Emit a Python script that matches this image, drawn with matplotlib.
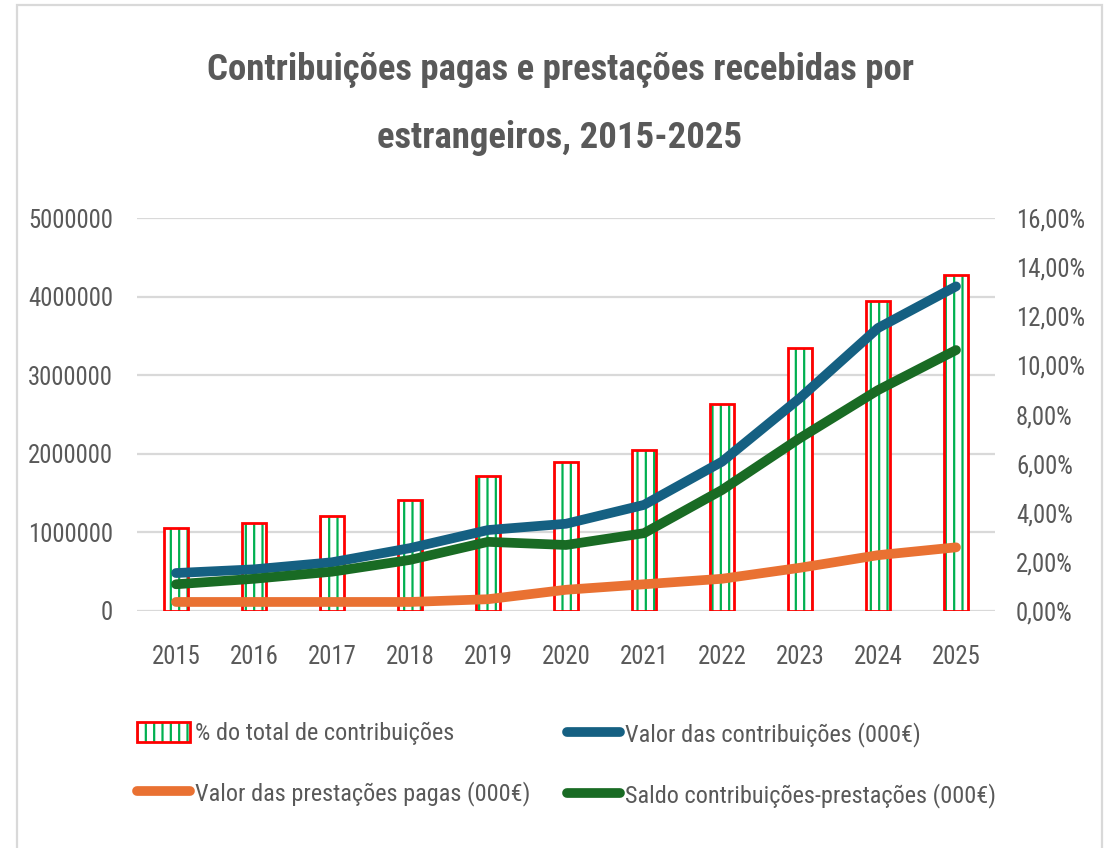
import matplotlib
matplotlib.use("Agg")
import numpy as np
import matplotlib.pyplot as plt
from matplotlib import font_manager as fm
from matplotlib.patches import Rectangle
from matplotlib.ticker import FuncFormatter, MultipleLocator
from matplotlib.legend_handler import HandlerTuple

# ---- data ----
years = ["2015", "2016", "2017", "2018", "2019", "2020", "2021", "2022", "2023", "2024", "2025"]
pct_total = [3.38, 3.58, 3.87, 4.52, 5.50, 6.07, 6.56, 8.43, 10.71, 12.62, 13.68]          # %
contrib = [483000, 530000, 620000, 800000, 1030000, 1110000, 1350000, 1900000, 2710000, 3600000, 4130000]
prest = [115000, 115000, 115000, 115000, 150000, 270000, 340000, 410000, 550000, 710000, 810000]
saldo = [340000, 410000, 500000, 650000, 880000, 840000, 990000, 1540000, 2200000, 2810000, 3320000]

lbl_pct = "% do total de contribuições"
lbl_contrib = "Valor das contribuições (000€)"
lbl_prest = "Valor das prestações pagas (000€)"
lbl_saldo = "Saldo contribuições-prestações (000€)"
title = "Contribuições pagas e prestações recebidas por\nestrangeiros, 2015-2025"

# ---- pick the narrowest available font ----
def _pick_font():
    cands = [('Liberation Sans Narrow', 'normal'), ('Roboto Condensed', 'normal'),
             ('Open Sans Condensed', 'normal'), ('DejaVu Sans', 'condensed'),
             ('Noto Sans', 'condensed'), ('Roboto', 'normal')]
    for fam, st in cands:
        try:
            p = fm.findfont(fm.FontProperties(family=fam, stretch=st), fallback_to_default=False)
        except Exception:
            continue
        if st == 'condensed' and 'ondensed' not in p:
            continue
        return fam, st
    return 'DejaVu Sans', 'normal'

FAM, STRETCH = _pick_font()
plt.rcParams['font.family'] = [FAM, 'DejaVu Sans']
plt.rcParams['font.stretch'] = STRETCH
plt.rcParams['hatch.linewidth'] = 1.6
TXT = '#595959'
BLUE = '#156082'
ORANGE = '#E97132'
GREEN = '#196B24'

W, H = 1109, 848
PX = 100 / 72.0  # px per pt
fig = plt.figure(figsize=(W / 100, H / 100), dpi=100)
renderer = fig.canvas.get_renderer()


def fit_size(s, target_px, weight='normal', base=20.0):
    t = fig.text(0, 0, s, fontsize=base, fontweight=weight)
    w = t.get_window_extent(renderer).width
    t.remove()
    return base * target_px / w


title_fs = fit_size("Contribuições pagas e prestações recebidas por", 705, 'bold')
ytick_fs = (fit_size("5000000", 78) + fit_size("16,00%", 68)) / 2 * 1.06
xtick_fs = fit_size("2015", 46) * 1.06
leg_fs = (fit_size(lbl_contrib, 290) + fit_size(lbl_saldo, 378) + fit_size(lbl_pct, 257)) / 3

rect = [137 / W, 1 - 611 / H, (995 - 137) / W, (611 - 218) / H]

ax = fig.add_axes(rect)            # grid + left labels
ax2 = ax.twinx()                   # bars + right labels
ax3 = fig.add_axes(rect)           # lines
ax.set_zorder(0)
ax2.set_zorder(1)
ax3.set_zorder(2)
ax2.patch.set_visible(False)
ax3.patch.set_visible(False)

x = np.arange(len(years))

# left axis
ax.set_xlim(-0.5, len(years) - 0.5)
ax.set_ylim(0, 5000000)
ax.yaxis.set_major_locator(MultipleLocator(1000000))
ax.yaxis.set_major_formatter(FuncFormatter(lambda v, p: f"{int(round(v))}"))
ax.grid(axis='y', color='#d9d9d9', linewidth=1.6)
ax.set_axisbelow(True)
ax.set_xticks(x)
ax.set_xticklabels(years)
xpad = (659 - 611) / PX - xtick_fs * 0.55
ax.tick_params(axis='x', length=0, pad=xpad, labelsize=xtick_fs, labelcolor=TXT)
ax.tick_params(axis='y', length=0, pad=(137 - 113) / PX, labelsize=ytick_fs, labelcolor=TXT)

# bars on right axis
bw = 0.32
bh = ax2.bar(x, pct_total, width=bw, facecolor='white', edgecolor='#00B050', hatch='||', linewidth=0)
be = ax2.bar(x, pct_total, width=bw, fill=False, edgecolor='#FF0000', linewidth=2)
ax2.set_ylim(0, 16)
ax2.yaxis.set_major_locator(MultipleLocator(2))
ax2.yaxis.set_major_formatter(FuncFormatter(lambda v, p: f"{v:.2f}%".replace('.', ',')))
ax2.tick_params(axis='y', length=0, pad=(1016 - 995) / PX, labelsize=ytick_fs, labelcolor=TXT)

# lines
ax3.set_xlim(ax.get_xlim())
ax3.set_ylim(ax.get_ylim())
lkw = dict(lw=7, solid_capstyle='round', solid_joinstyle='round')
l_contrib, = ax3.plot(x, contrib, color=BLUE, **lkw)
l_prest, = ax3.plot(x, prest, color=ORANGE, **lkw)
l_saldo, = ax3.plot(x, saldo, color=GREEN, **lkw)
ax3.axis('off')

for a in (ax, ax2, ax3):
    for s in a.spines.values():
        s.set_visible(False)

# title
fig.text(0.505, 1 - 104 / H, title, ha='center', va='center', fontsize=title_fs,
         fontweight='bold', color=TXT, linespacing=1.39 * 67 / (title_fs * PX * 1.2),
         multialignment='center')

# legends: two columns placed independently
fpx = leg_fs * PX
lkw_leg = dict(loc='upper left', frameon=False, borderpad=0, borderaxespad=0,
               fontsize=leg_fs, handlelength=53 / fpx, handleheight=0.9,
               handletextpad=5 / fpx, labelspacing=(65 - 1.2 * fpx) / fpx,
               labelcolor=TXT)
top_y = 1 - (737 - 0.62 * fpx) / H
leg1 = fig.legend([(bh[0], be[0]), l_prest], [lbl_pct, lbl_prest],
                  bbox_to_anchor=(137 / W, top_y),
                  handler_map={tuple: HandlerTuple(ndivide=1, pad=0)}, **lkw_leg)
leg2 = fig.legend([l_contrib, l_saldo], [lbl_contrib, lbl_saldo],
                  bbox_to_anchor=(567 / W, top_y), **lkw_leg)

# outer chart border
fig.add_artist(Rectangle((17 / W, -0.05), (1102 - 17) / W, (1 - 5 / H) + 0.05,
                         transform=fig.transFigure, fill=False,
                         edgecolor='#d9d9d9', linewidth=1.6))

fig.savefig('out.png', dpi=100)
